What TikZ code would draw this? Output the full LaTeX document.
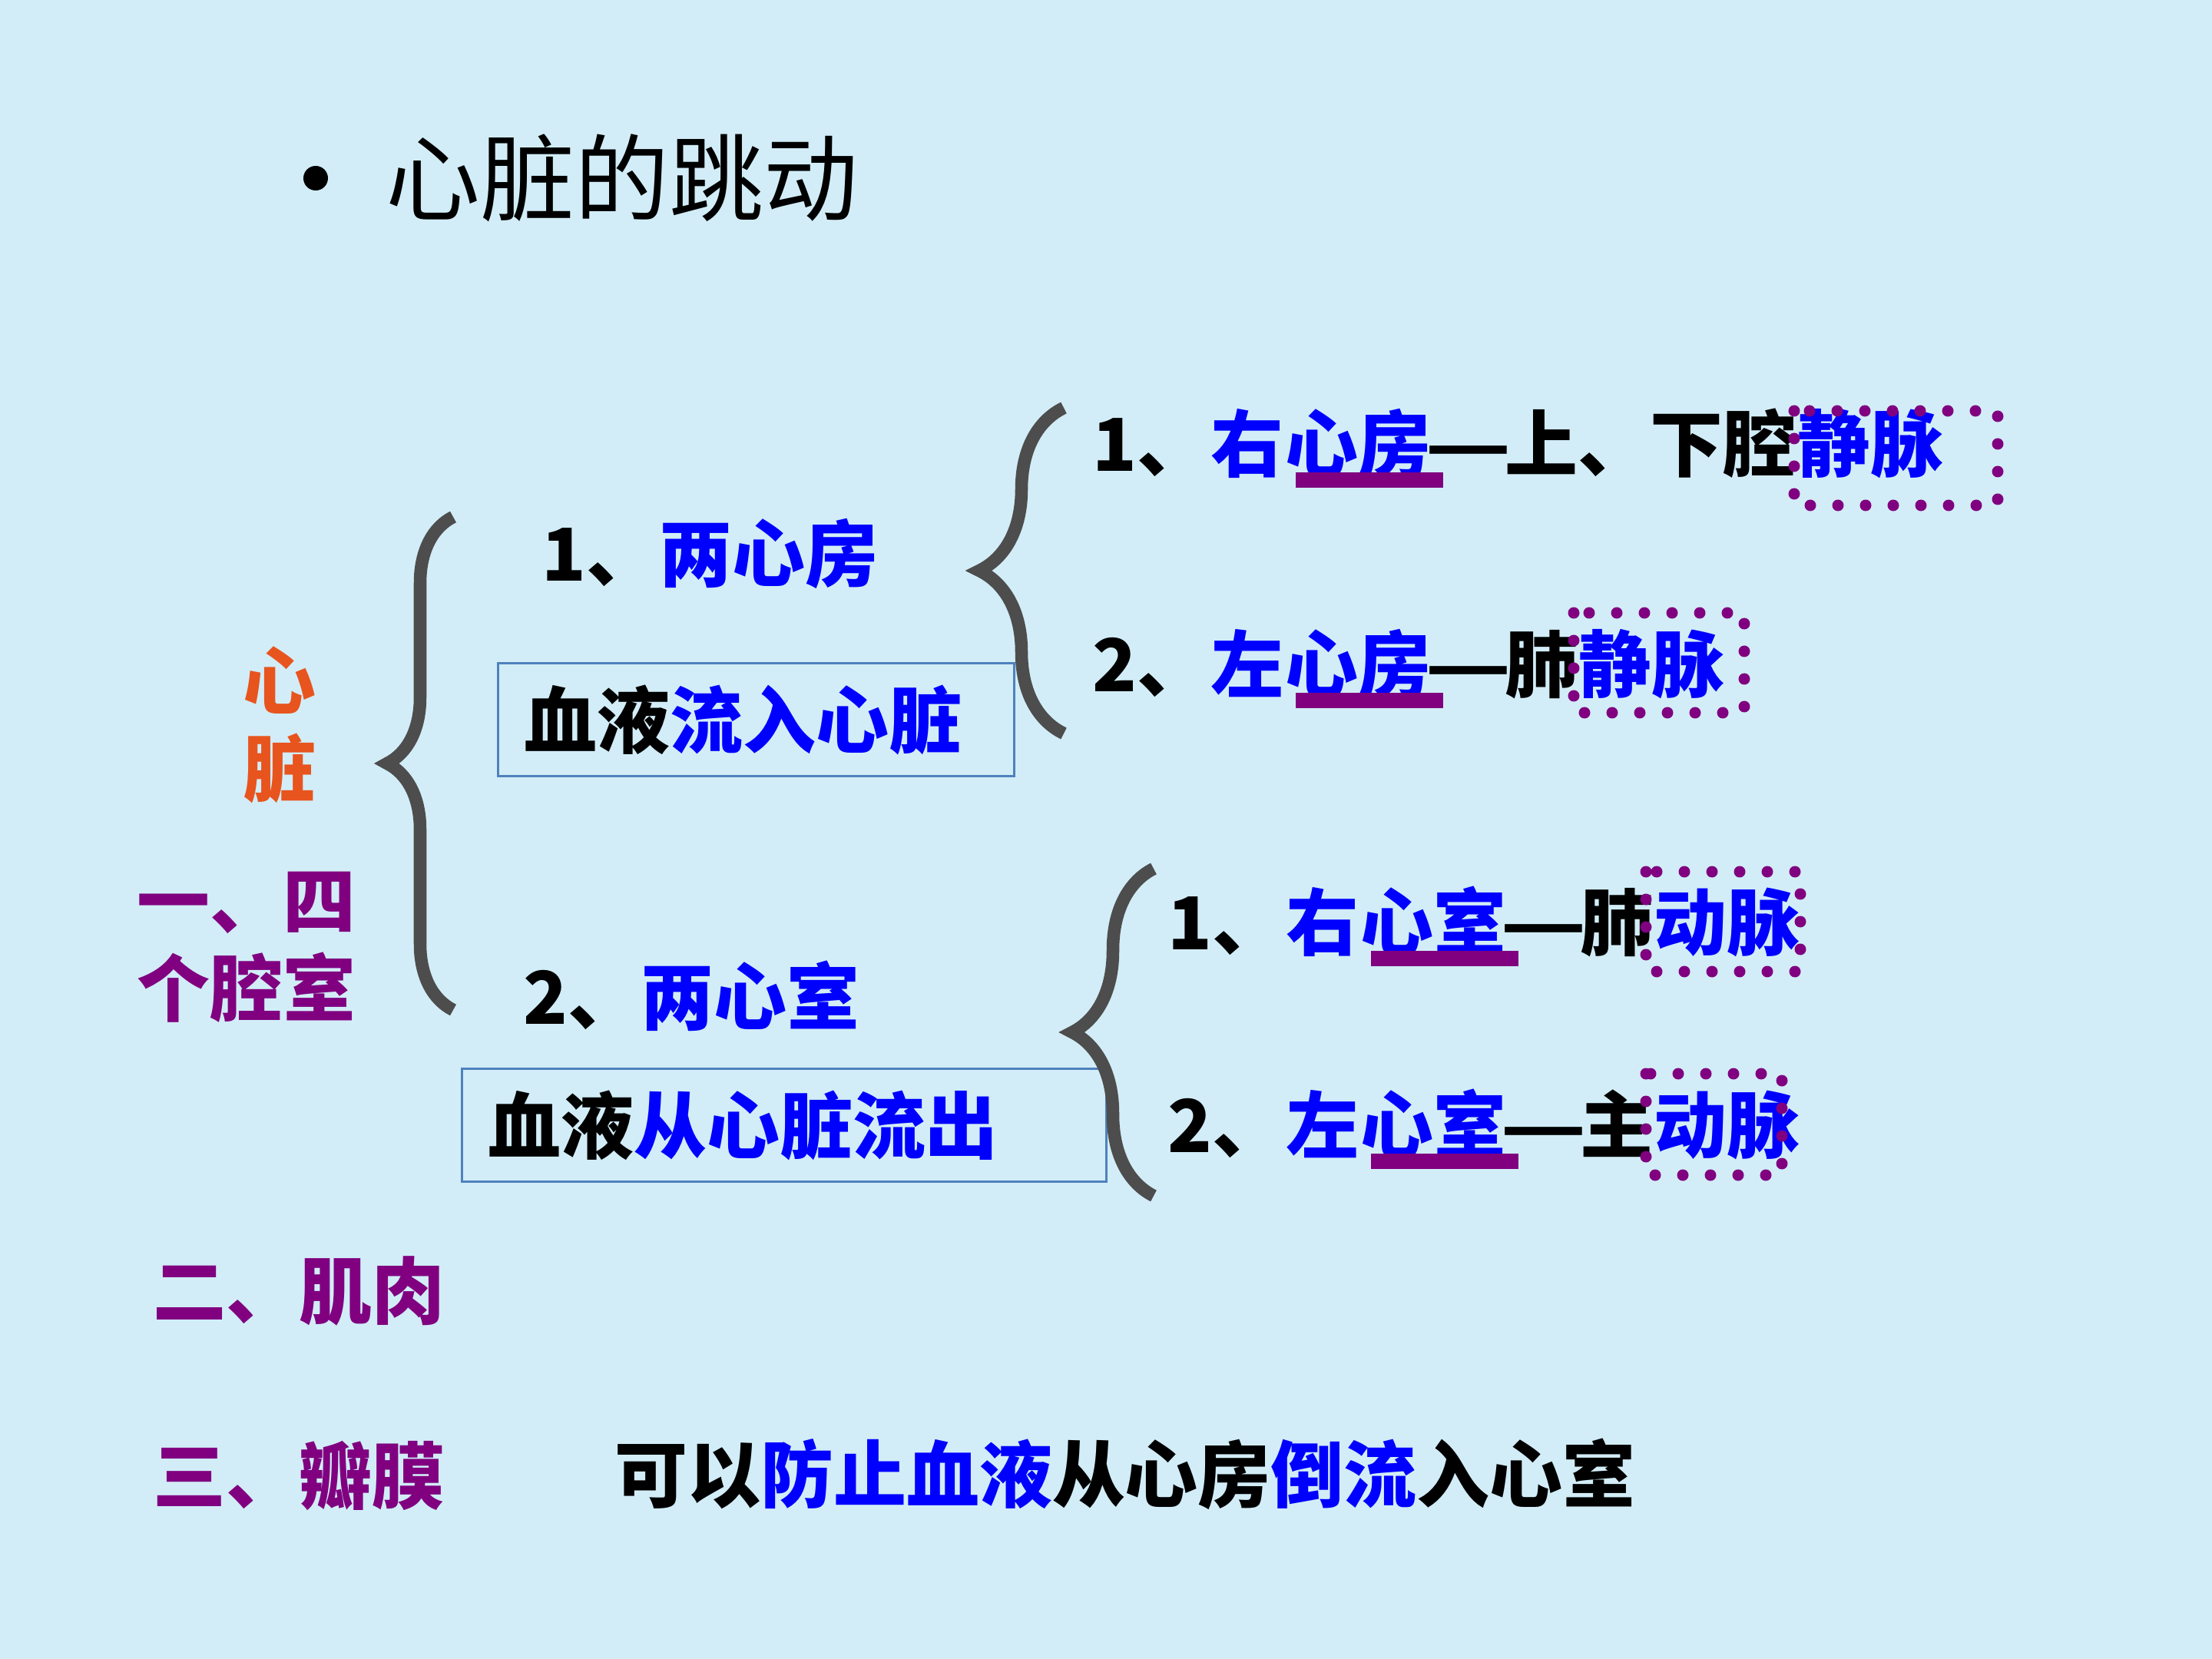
\documentclass[tikz,border=0pt]{standalone}
\usepackage{fontspec}
\newfontfamily\cjk{Noto Sans CJK SC}
\usepackage{xcolor}
\definecolor{bgcolor}{HTML}{D2EDF7}
\definecolor{bluecolor}{HTML}{0000FF}
\definecolor{purplecolor}{HTML}{800080}
\definecolor{orangecolor}{HTML}{E8541E}
\definecolor{bracecolor}{HTML}{4D4D4D}
\definecolor{boxcolor}{HTML}{4F81BD}
\newcommand{\bodyfont}{\cjk\bfseries\fontsize{27}{32.5}\selectfont}
\newcommand{\titlefont}{\cjk\fontsize{35}{42}\selectfont}
\newcommand{\longdash}{\makebox[1em]{\scalebox{1.3}[1]{—}}}
\usetikzlibrary{positioning, calc, decorations.pathreplacing}

\begin{document}
\begin{tikzpicture}[
  seg/.style={inner sep=0pt, text height=0.76cm, text depth=0.19cm, font=\bodyfont},
  bluetxt/.style={text=bluecolor},
  flowbox/.style={draw=boxcolor, line width=0.9pt, inner xsep=0.34cm, inner ysep=0pt,
    minimum height=1.47cm, align=left, font=\bodyfont},
  curly/.style={draw=bracecolor, line width=4.7pt, decorate, decoration={brace, amplitude=#1}},
  dotbox/.style={draw=purplecolor, line width=0.15cm, line cap=round, dash pattern=on 0pt off 0.36cm},
  bar/.style={draw=purplecolor, line width=0.2cm}
]
  \fill[bgcolor] (0,0) rectangle (28.8,-21.6);

  % title
  \node[circle, fill=black, inner sep=0pt, minimum size=0.32cm] (bullet) at (4.11,-2.32) {};
  \node[anchor=west, inner sep=0pt, font=\titlefont] (title) at (5.02,-2.32) {心脏的跳动};

  % left column
  \node[font=\bodyfont, text=orangecolor, align=center] (heart) at (3.64,-9.44) {心\\脏};
  \node[font=\bodyfont, text=purplecolor, align=left, anchor=west] (fourch) at (1.66,-12.33) {一、四\\个腔室};

  \node[seg, anchor=west] (atria) at (7.05,-7.28) {1、\textcolor{bluecolor}{两心房}};
  \node[flowbox, text width=6.04cm, anchor=west] (inflow) at (6.47,-9.37) {血液\textcolor{bluecolor}{流入心脏}};
  \node[seg, anchor=west] (ventr) at (6.81,-13.05) {2、\textcolor{bluecolor}{两心室}};
  \node[flowbox, text width=7.71cm, anchor=west] (outflow) at (6.00,-14.65) {血液\textcolor{bluecolor}{从心脏流出}};

  % braces
  \coordinate (lb-bot) at (5.90,-13.15);
  \coordinate (lb-top) at (5.90,-6.73);
  \coordinate (ab-bot) at (13.85,-9.55);
  \coordinate (ab-top) at (13.85,-5.31);
  \coordinate (vb-bot) at (15.02,-15.57);
  \coordinate (vb-top) at (15.02,-11.31);
  \draw[curly=0.86cm] (lb-bot) -- (lb-top);
  \draw[curly=1.10cm] (ab-bot) -- (ab-top);
  \draw[curly=1.06cm] (vb-bot) -- (vb-top);

  % chambers and vessels
  \foreach \n/\x/\y/\num/\side/\room/\mid/\ves in {
    ra/14.22/-5.85/1/右/心房/\longdash 上、下腔/静脉,
    la/14.22/-8.72/2/左/心房/\longdash 肺/静脉,
    rv/15.20/-12.08/1/右/心室/\longdash 肺/动脉,
    lv/15.20/-14.72/2/左/心室/\longdash 主/动脉%
  }{
    \node[seg, anchor=west] (\n-num) at (\x,\y) {\num{}、};
    \node[seg, bluetxt, right=0pt of \n-num] (\n-side) {\side};
    \node[seg, bluetxt, right=0pt of \n-side] (\n-room) {\room};
    \node[seg, right=0pt of \n-room] (\n-mid) {\mid};
    \node[seg, bluetxt, right=0pt of \n-mid] (\n-ves) {\ves};
    \draw[bar] ([xshift=0.15cm,yshift=0.08cm]\n-room.south west) -- ([xshift=0.15cm,yshift=0.08cm]\n-room.south east);
  }
  \foreach \xa/\ya/\xb/\yb in {23.36/-5.35/26.01/-6.58, 20.49/-7.98/22.71/-9.28,
    21.43/-11.35/23.44/-12.65, 21.43/-13.98/23.20/-15.30}
    \draw[dotbox] (\xa,\ya) rectangle (\xb,\yb);

  % muscle and valves
  \node[seg, text=purplecolor, anchor=west] (muscle) at (1.99,-16.88) {二、肌肉};
  \node[seg, text=purplecolor, anchor=west] (valve) at (1.99,-19.29) {三、瓣膜};
  \node[seg, anchor=west] (valvenote) at (8.00,-19.27) {可以\textcolor{bluecolor}{防止血液}从心房\textcolor{bluecolor}{倒流}入心室};
\end{tikzpicture}
\end{document}
